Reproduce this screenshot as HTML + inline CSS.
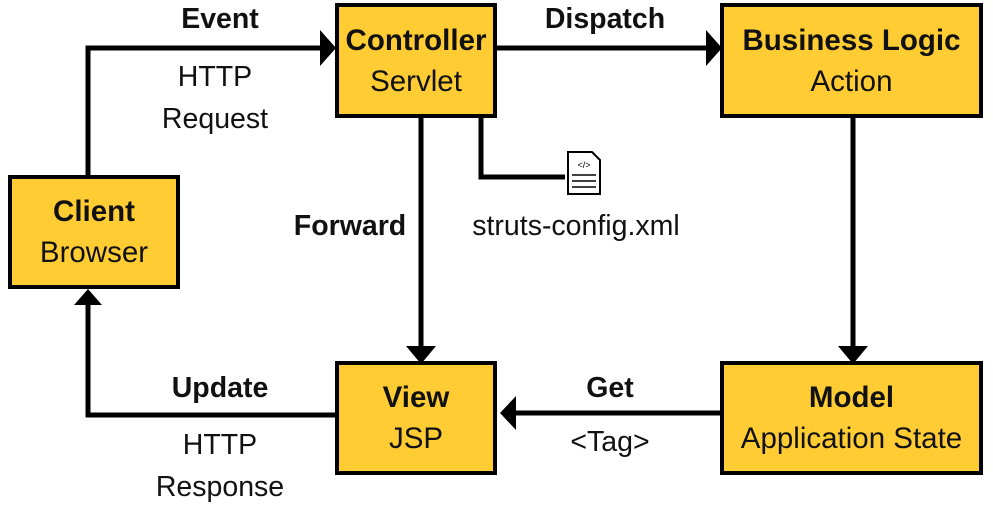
<!DOCTYPE html>
<html><head><meta charset="utf-8"><style>
body{margin:0;background:#fff;width:993px;height:511px;overflow:hidden;font-family:"Liberation Sans",Arial,sans-serif}
.b{position:absolute;background:#FFCC33;border:4px solid #000;box-sizing:border-box;text-align:center;display:flex;flex-direction:column;justify-content:center;font-size:29.5px;line-height:41px;color:#111;white-space:nowrap}
.b b{font-weight:bold}
.t{position:absolute;font-size:28.5px;color:#111;white-space:nowrap;text-align:center}
.t.bo{font-weight:bold}
</style></head><body>
<svg width="993" height="511" style="position:absolute;left:0;top:0">
<g stroke="#000" stroke-width="5" fill="none">
<polyline points="88,176 88,48 322,48"/>
<line x1="497" y1="48" x2="708" y2="48"/>
<line x1="853" y1="117" x2="853" y2="350"/>
<line x1="421" y1="117" x2="421" y2="350"/>
<polyline points="481,117 481,177 565,177"/>
<line x1="720" y1="413" x2="512" y2="413"/>
<polyline points="335,415 88,415 88,302"/>
</g>
<g fill="#000">
<polygon points="320,30 336,48 320,66"/>
<polygon points="706,30 722,48 706,66"/>
<polygon points="838,346 868,346 853,364"/>
<polygon points="406,346 436,346 421,364"/>
<polygon points="516,396 500,413 516,430"/>
<polygon points="74,305 102,305 88,289"/>
</g>
<g>
<path d="M568,152 h24 l8,8 v34 h-32 z" fill="#fff" stroke="#000" stroke-width="2"/>
<text x="584" y="168" font-size="9" text-anchor="middle" font-family="Liberation Sans">&lt;/&gt;</text>
<g stroke="#000" stroke-width="1.5"><line x1="572" y1="175" x2="596" y2="175"/><line x1="572" y1="181" x2="596" y2="181"/><line x1="572" y1="187" x2="596" y2="187"/></g>
</g>
</svg>
<div class="b" style="left:8px;top:175px;width:172px;height:114px"><b>Client</b><span>Browser</span></div>
<div class="b" style="left:335px;top:3px;width:162px;height:115px"><b>Controller</b><span>Servlet</span></div>
<div class="b" style="left:720px;top:3px;width:263px;height:115px"><b>Business Logic</b><span>Action</span></div>
<div class="b" style="left:335px;top:361px;width:162px;height:114px"><b>View</b><span>JSP</span></div>
<div class="b" style="left:720px;top:361px;width:263px;height:114px"><b>Model</b><span>Application State</span></div>
<div class="t bo" style="left:160px;top:3px;width:120px">Event</div>
<div class="t" style="left:140px;top:56px;width:150px;line-height:42px">HTTP<br>Request</div>
<div class="t bo" style="left:525px;top:3px;width:160px">Dispatch</div>
<div class="t bo" style="left:275px;top:210px;width:150px">Forward</div>
<div class="t" style="left:456px;top:210px;width:240px">struts-config.xml</div>
<div class="t bo" style="left:150px;top:372px;width:140px">Update</div>
<div class="t" style="left:140px;top:424px;width:160px;line-height:42px">HTTP<br>Response</div>
<div class="t bo" style="left:560px;top:372px;width:100px">Get</div>
<div class="t" style="left:550px;top:426px;width:120px">&lt;Tag&gt;</div>
</body></html>
